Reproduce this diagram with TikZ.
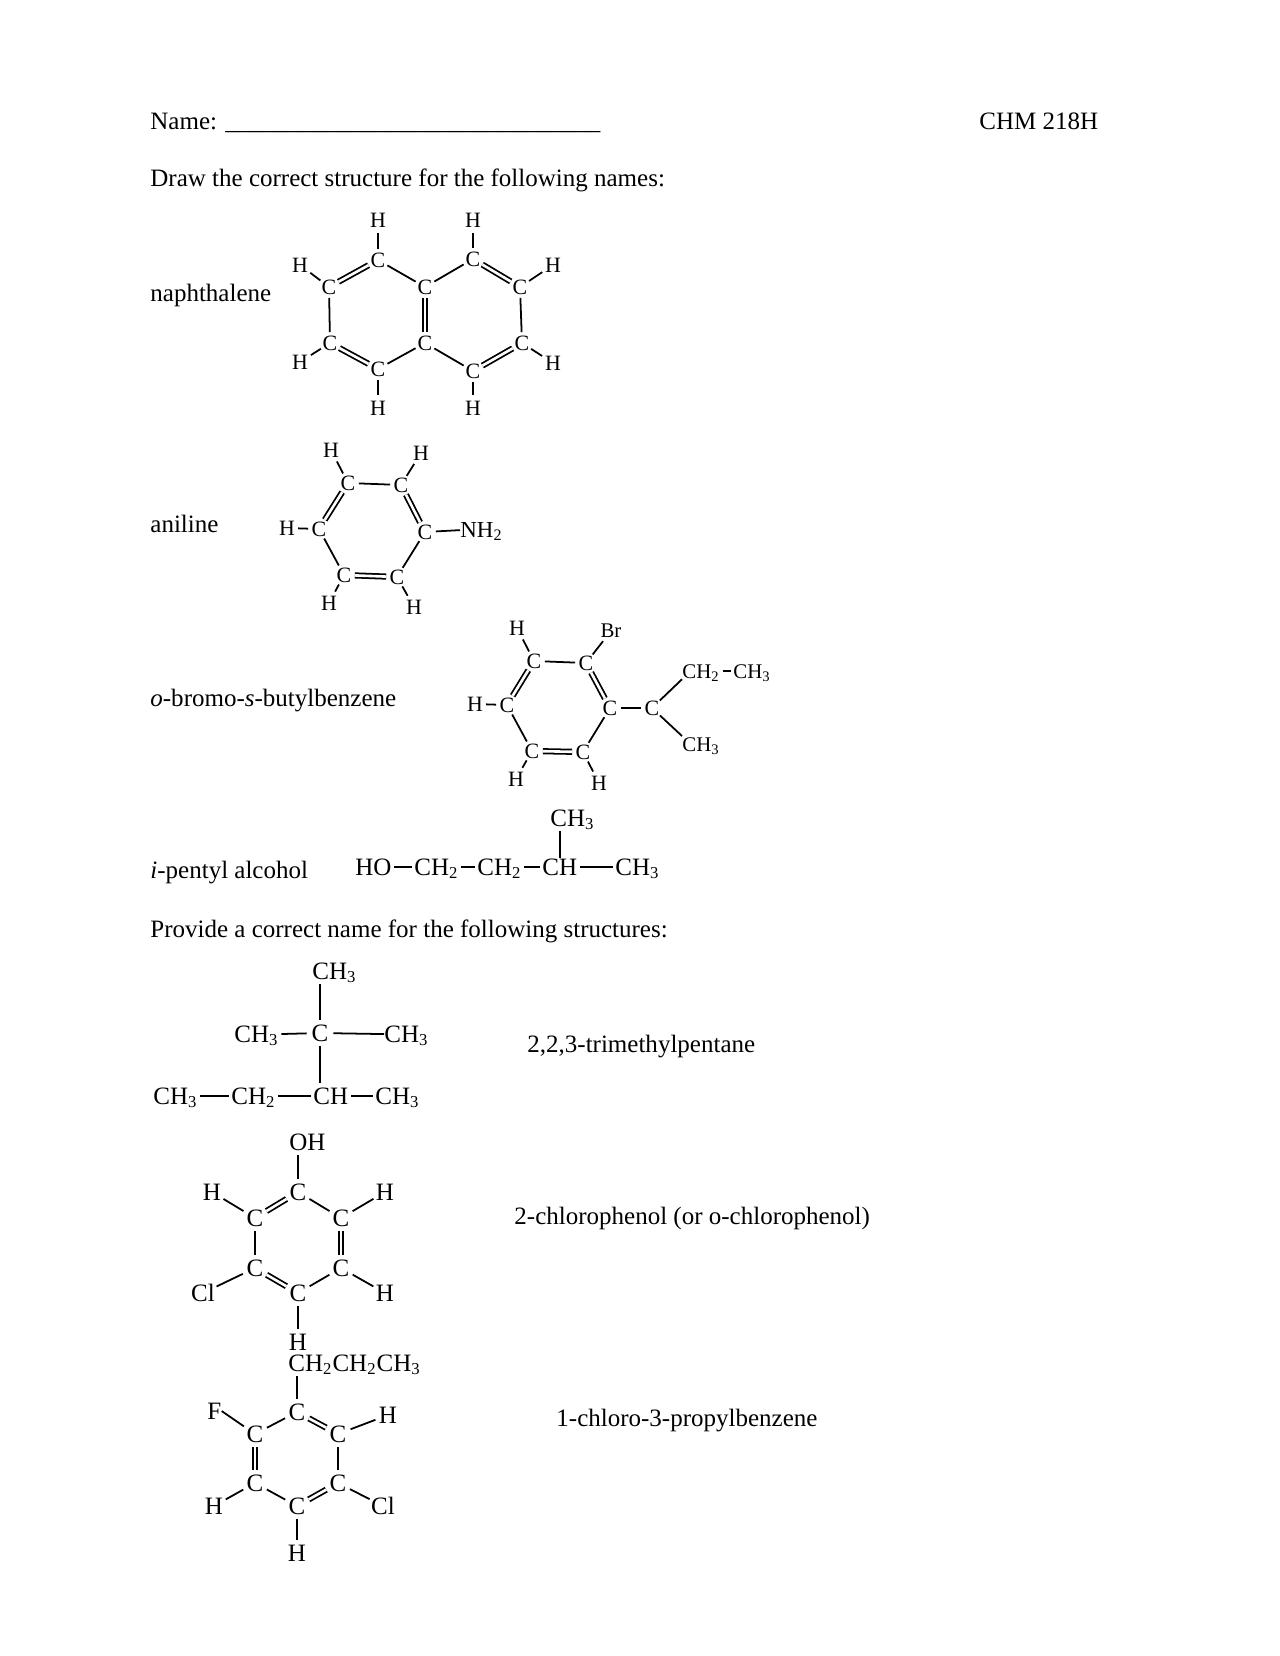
\documentclass[tikz,border=0pt]{standalone}
\usepackage{fontspec}
\setmainfont{Liberation Serif}
\tikzset{
  atom/.style={circle,inner sep=0pt,minimum size=10pt,font=\fontsize{10.5}{11}\selectfont},
  atomh/.style={atom,minimum size=12pt},
  atomb/.style={circle,inner sep=0pt,minimum size=12.5pt,font=\fontsize{12}{13}\selectfont},
  group/.style={rectangle,inner sep=0pt,anchor=base west,text height=8pt,text depth=.4pt,font=\fontsize{12}{13}\selectfont},
  groupa/.style={group,text height=7pt,font=\fontsize{10}{11}\selectfont},
  line/.style={anchor=base west,inner sep=0pt,font=\fontsize{12}{14}\selectfont},
  bond/.style={line width=.85pt},
  dbond/.style={bond,double,double distance=1.25pt},
  link/.style={bond,shorten <=1.2pt,shorten >=1.2pt},
  stem/.style={bond,shorten >=2pt}
}
\begin{document}
\begin{tikzpicture}[x=0.478125bp,y=-0.478125bp]
\useasboundingbox (0,0) rectangle (1280,1656);
\node[line] (name) at (150,130) {Name: \_\_\_\_\_\_\_\_\_\_\_\_\_\_\_\_\_\_\_\_\_\_\_\_\_\_\_\_\_\_};
\node[line] (course) at (979,130) {CHM 218H};
\node[line] (drawq) at (150,187) {Draw the correct structure for the following names:};
\node[line] (naphlabel) at (150,302) {naphthalene};
\node[line] (anillabel) at (150,532) {aniline};
\node[line] (bromolabel) at (150,706) {\textit{o}-bromo-\textit{s}-butylbenzene};
\node[line] (pentlabel) at (150,878) {\textit{i}-pentyl alcohol};
\node[line] (provq) at (150,937) {Provide a correct name for the following structures:};
\node[line] (tmplabel) at (527,1052) {2,2,3-trimethylpentane};
\node[line] (cplabel) at (514,1224) {2-chlorophenol (or o-chlorophenol)};
\node[line] (cpblabel) at (556,1426) {1-chloro-3-propylbenzene};
\foreach \n/\x/\y in {a/329/287,b/378/260,c/425/287,d/473/259,e/520/287,f/522/343,g/473/371,h/425/343,i/378/369,j/330/343}
  \node[atom] (n\n) at (\x,\y) {C};
\foreach \n/\x/\y in {a/300/265,b/378/220,d/473/220,e/553/265,f/553/363,g/473/408,i/378/408,j/300/362}
  \node[atomh] (nh\n) at (\x,\y) {H};
\foreach \p/\q in {a/b,d/e,h/c,j/i,g/f}
  \draw[dbond] (n\p) -- (n\q);
\foreach \p/\q in {b/c,c/d,e/f,a/j,i/h,h/g}
  \draw[bond] (n\p) -- (n\q);
\foreach \p in {a,b,d,e,f,g,i,j}
  \draw[bond] (n\p) -- (nh\p);
\foreach \n/\x/\y in {a/348/483,b/401/485,c/425/532,d/397/577,e/344/575,f/319/529}
  \node[atom] (a\n) at (\x,\y) {C};
\foreach \n/\x/\y in {a/331/450,b/421/453,d/414/607,e/329/603}
  \node[atomh] (ah\n) at (\x,\y) {H};
\node[atom] (ahf) at (287,528) {H};
\node[groupa,font=\fontsize{11}{12}\selectfont] (anh) at (460,537) {NH\textsubscript{2}};
\foreach \p/\q in {a/f,b/c,e/d}
  \draw[dbond] (a\p) -- (a\q);
\foreach \p/\q in {a/b,c/d,e/f}
  \draw[bond] (a\p) -- (a\q);
\foreach \p in {a,b,d,e,f}
  \draw[bond] (a\p) -- (ah\p);
\draw[bond] (ac) -- (anh.west);
\foreach \n/\x/\y in {a/534/661,b/586/663,c/610/708,d/583/752,e/532/751,f/507/705,g/652/708}
  \node[atom] (b\n) at (\x,\y) {C};
\foreach \n/\x/\y in {a/517/628,d/599/783,e/516/779}
  \node[atomh] (bh\n) at (\x,\y) {H};
\node[atom] (bhf) at (475,704) {H};
\node[atomh,font=\fontsize{10}{11}\selectfont] (bbr) at (611,631) {Br};
\node[groupa] (bcha) at (682,678) {CH\textsubscript{2}};
\node[groupa] (bchb) at (733,678) {CH\textsubscript{3}};
\node[groupa] (bchc) at (682,751) {CH\textsubscript{3}};
\foreach \p/\q in {a/f,b/c,e/d}
  \draw[dbond] (b\p) -- (b\q);
\foreach \p/\q in {a/b,c/d,e/f,c/g}
  \draw[bond] (b\p) -- (b\q);
\foreach \p in {a,d,e,f}
  \draw[bond] (b\p) -- (bh\p);
\draw[bond] (bb) -- (bbr);
\draw[link] (bcha.east) -- (bchb.west);
\draw[bond] (bg) -- (bcha.south west);
\draw[bond] (bg) -- (bchc.north west);
\node[group] (pho) at (355,875) {HO};
\node[group] (pcha) at (414,875) {CH\textsubscript{2}};
\node[group] (pchb) at (477,875) {CH\textsubscript{2}};
\node[group] (pch) at (542,875) {CH};
\node[group] (pchc) at (615,875) {CH\textsubscript{3}};
\node[group] (pchd) at (550,826) {CH\textsubscript{3}};
\draw[link] (pho.east) -- (pcha.west);
\draw[link] (pcha.east) -- (pchb.west);
\draw[link] (pchb.east) -- (pch.west);
\draw[link] (pch.east) -- (pchc.west);
\draw[stem] (pch.north) -- (pch.north |- pchd.south);
\node[group] (tcha) at (312,979) {CH\textsubscript{3}};
\node[group] (tchb) at (234,1042) {CH\textsubscript{3}};
\node[atomb] (tc) at (320,1033) {C};
\node[group] (tchc) at (384,1042) {CH\textsubscript{3}};
\node[group] (tchd) at (153,1104) {CH\textsubscript{3}};
\node[group] (tche) at (231,1104) {CH\textsubscript{2}};
\node[group] (tch) at (313,1104) {CH};
\node[group] (tchf) at (375,1104) {CH\textsubscript{3}};
\draw[stem] (tc) -- (tc |- tcha.south);
\draw[bond,shorten <=1.2pt] (tchb.east) -- (tc);
\draw[bond] (tc) -- (tchc.west);
\draw[stem] (tc) -- (tc |- tch.north);
\draw[link] (tchd.east) -- (tche.west);
\draw[link] (tche.east) -- (tch.west);
\draw[link] (tch.east) -- (tchf.west);
\foreach \n/\x/\y in {a/298/1192,b/341/1218,c/341/1268,d/298/1293,e/255/1268,f/255/1218}
  \node[atomb] (c\n) at (\x,\y) {C};
\foreach \n/\x/\y in {b/385/1192,c/385/1293,d/298/1342,f/212/1192}
  \node[atomb] (ch\n) at (\x,\y) {H};
\node[atomb] (ccl) at (203,1293) {Cl};
\node[group] (coh) at (289,1150) {OH};
\foreach \p/\q in {a/f,b/c,e/d}
  \draw[dbond] (c\p) -- (c\q);
\foreach \p/\q in {a/b,c/d,e/f}
  \draw[bond] (c\p) -- (c\q);
\foreach \p in {b,c,d,f}
  \draw[bond] (c\p) -- (ch\p);
\draw[bond] (ce) -- (ccl);
\draw[stem] (ca) -- (ca |- coh.south);
\foreach \n/\x/\y in {a/297/1412,b/338/1434,c/338/1483,d/297/1506,e/255/1483,f/255/1434}
  \node[atomb] (p\n) at (\x,\y) {C};
\foreach \n/\x/\y in {b/388/1415,d/297/1553,e/214/1506}
  \node[atomb] (ph\n) at (\x,\y) {H};
\node[group] (pfl) at (207,1419) {F};
\node[atomb] (pcl) at (383,1506) {Cl};
\node[group] (ppr) at (288,1371) {CH\textsubscript{2}CH\textsubscript{2}CH\textsubscript{3}};
\foreach \p/\q in {a/b,c/d,e/f}
  \draw[dbond] (p\p) -- (p\q);
\foreach \p/\q in {b/c,d/e,f/a}
  \draw[bond] (p\p) -- (p\q);
\foreach \p in {b,d,e}
  \draw[bond] (p\p) -- (ph\p);
\draw[bond] (pf) -- (pfl.east);
\draw[bond] (pc) -- (pcl);
\draw[stem] (pa) -- (pa |- ppr.south);
\end{tikzpicture}
\end{document}
